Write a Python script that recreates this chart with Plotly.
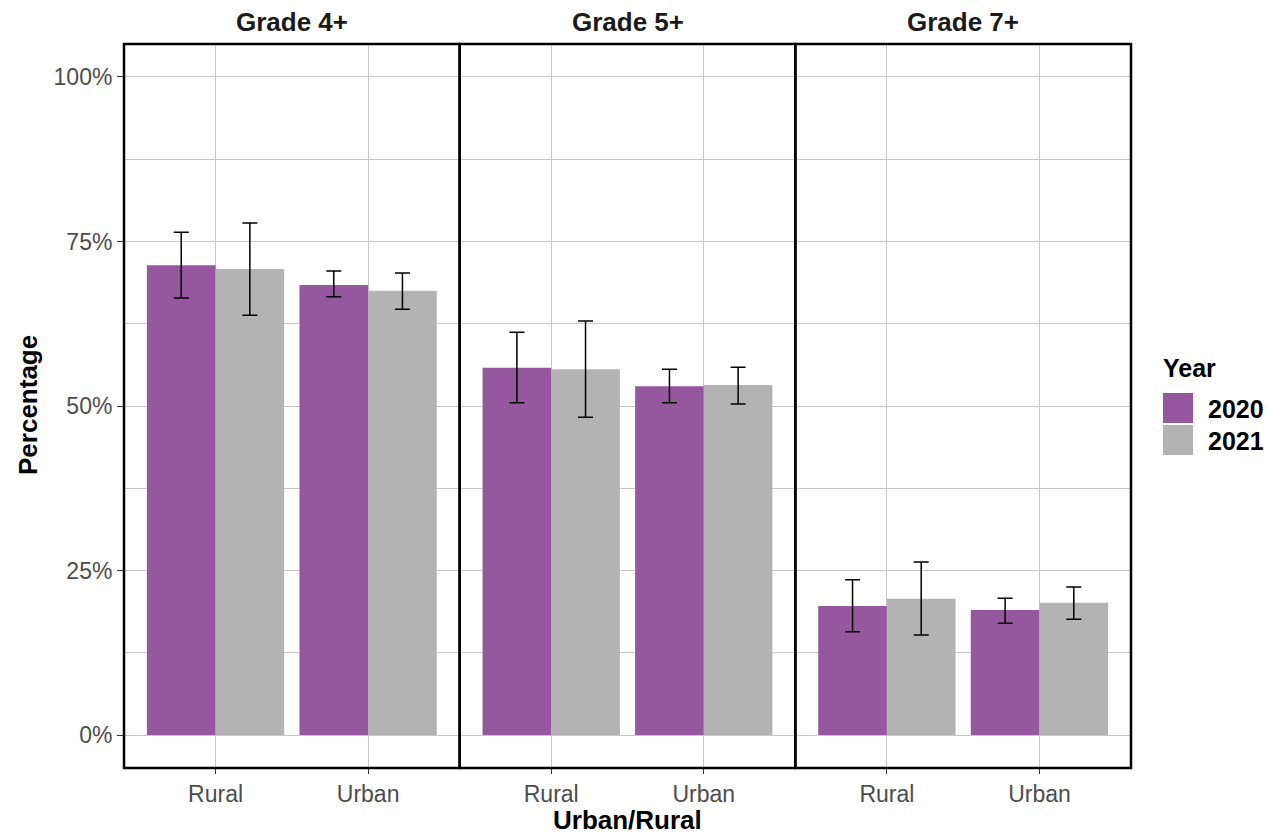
import plotly.graph_objects as go
from plotly.subplots import make_subplots

grades = ["Grade 4+", "Grade 5+", "Grade 7+"]
areas = ["Rural", "Urban"]
years = ["2020", "2021"]
y_tickvals = [0, 25, 50, 75, 100]
y_ticktext = ["0%", "25%", "50%", "75%", "100%"]

# values per grade: [Rural, Urban]
val_2020 = {"Grade 4+": [71.4, 68.4], "Grade 5+": [55.8, 53.0], "Grade 7+": [19.6, 19.0]}
low_2020 = {"Grade 4+": [66.4, 66.6], "Grade 5+": [50.5, 50.5], "Grade 7+": [15.7, 17.0]}
high_2020 = {"Grade 4+": [76.4, 70.5], "Grade 5+": [61.2, 55.6], "Grade 7+": [23.6, 20.8]}

val_2021 = {"Grade 4+": [70.8, 67.5], "Grade 5+": [55.6, 53.2], "Grade 7+": [20.7, 20.1]}
low_2021 = {"Grade 4+": [63.8, 64.7], "Grade 5+": [48.3, 50.3], "Grade 7+": [15.2, 17.6]}
high_2021 = {"Grade 4+": [77.8, 70.2], "Grade 5+": [62.9, 55.9], "Grade 7+": [26.3, 22.5]}

colors = {"2020": "#95579D", "2021": "#B3B3B3"}
series = {"2020": (val_2020, low_2020, high_2020), "2021": (val_2021, low_2021, high_2021)}

FONT = "Liberation Sans, Arial, sans-serif"

fig = make_subplots(rows=1, cols=3, shared_yaxes=True, horizontal_spacing=0)

for ci, g in enumerate(grades):
    for y in years:
        v, lo, hi = series[y]
        vals = v[g]
        fig.add_trace(go.Bar(
            x=areas, y=vals, name=y, marker_color=colors[y], marker_line_width=0,
            showlegend=False,
            error_y=dict(type="data", symmetric=False,
                         array=[h - m for h, m in zip(hi[g], vals)],
                         arrayminus=[m - l for l, m in zip(lo[g], vals)],
                         color="#000000", thickness=1.5, width=7.5),
        ), row=1, col=ci + 1)

fig.update_layout(
    width=1285, height=834,
    margin=dict(l=124, r=154, t=44, b=66),
    paper_bgcolor="white", plot_bgcolor="white",
    barmode="group", bargap=0.1, bargroupgap=0,
    font=dict(family=FONT, color="#4D4D4D", size=23),
    showlegend=False,
)

for ci in range(3):
    fig.update_xaxes(
        type="category", range=[-0.6, 1.6], showgrid=True, gridcolor="#C8C8C8", gridwidth=1,
        ticks="outside", ticklen=5, tickcolor="#333333", tickwidth=1,
        tickfont=dict(family=FONT, size=23, color="#4D4D4D"),
        showline=False, zeroline=False, row=1, col=ci + 1,
    )
    fig.update_yaxes(
        range=[-5, 105], tickmode="array", tickvals=y_tickvals, ticktext=y_ticktext,
        showgrid=True, gridcolor="#C8C8C8", gridwidth=1,
        minor=dict(tickvals=[12.5, 37.5, 62.5, 87.5], showgrid=True, gridcolor="#C8C8C8", gridwidth=1, ticks=""),
        zeroline=False, showline=False, row=1, col=ci + 1,
    )
fig.update_yaxes(ticks="outside", ticklen=6, tickcolor="#333333",
                 tickfont=dict(family=FONT, size=23, color="#4D4D4D"), row=1, col=1)

# panel borders and strip titles
for ci, g in enumerate(grades):
    x0 = ci / 3
    x1 = (ci + 1) / 3
    fig.add_shape(type="rect", xref="paper", yref="paper", x0=x0, x1=x1, y0=0, y1=1,
                  line=dict(color="black", width=2.5), fillcolor="rgba(0,0,0,0)", layer="above")
    fig.add_annotation(text="<b>%s</b>" % g, xref="paper", yref="paper", x=(x0 + x1) / 2,
                       y=1 + 22 / 724, showarrow=False, xanchor="center", yanchor="middle",
                       font=dict(family=FONT, size=26, color="#1A1A1A"))

fig.add_annotation(text="<b>Urban/Rural</b>", xref="paper", yref="paper", x=0.5, y=(768 - 820) / 724,
                   showarrow=False, xanchor="center", yanchor="middle",
                   font=dict(family=FONT, size=26, color="black"))
fig.add_annotation(text="<b>Percentage</b>", xref="paper", yref="paper", x=(28 - 124) / 1007, y=(768 - 405) / 724,
                   showarrow=False, textangle=-90, xanchor="center", yanchor="middle",
                   font=dict(family=FONT, size=26, color="black"))

# legend (drawn manually to match the large keys)
def px(x):
    return (x - 124) / 1007

def py(y):
    return (768 - y) / 724

fig.add_annotation(text="<b>Year</b>", xref="paper", yref="paper", x=px(1161), y=py(368),
                   xanchor="left", yanchor="middle", showarrow=False,
                   font=dict(family=FONT, size=25, color="black"))
for i, y in enumerate(years):
    top = 393 + i * 32
    fig.add_shape(type="rect", xref="paper", yref="paper", x0=px(1163), x1=px(1193),
                  y0=py(top + 30), y1=py(top), fillcolor=colors[y], line=dict(width=0))
    fig.add_annotation(text="<b>%s</b>" % y, xref="paper", yref="paper", x=px(1206), y=py(top + 16),
                       xanchor="left", yanchor="middle", showarrow=False,
                       font=dict(family=FONT, size=25, color="black"))

fig.write_html("out.html", config={"displayModeBar": False},
               post_script="document.body.style.margin='0';")
